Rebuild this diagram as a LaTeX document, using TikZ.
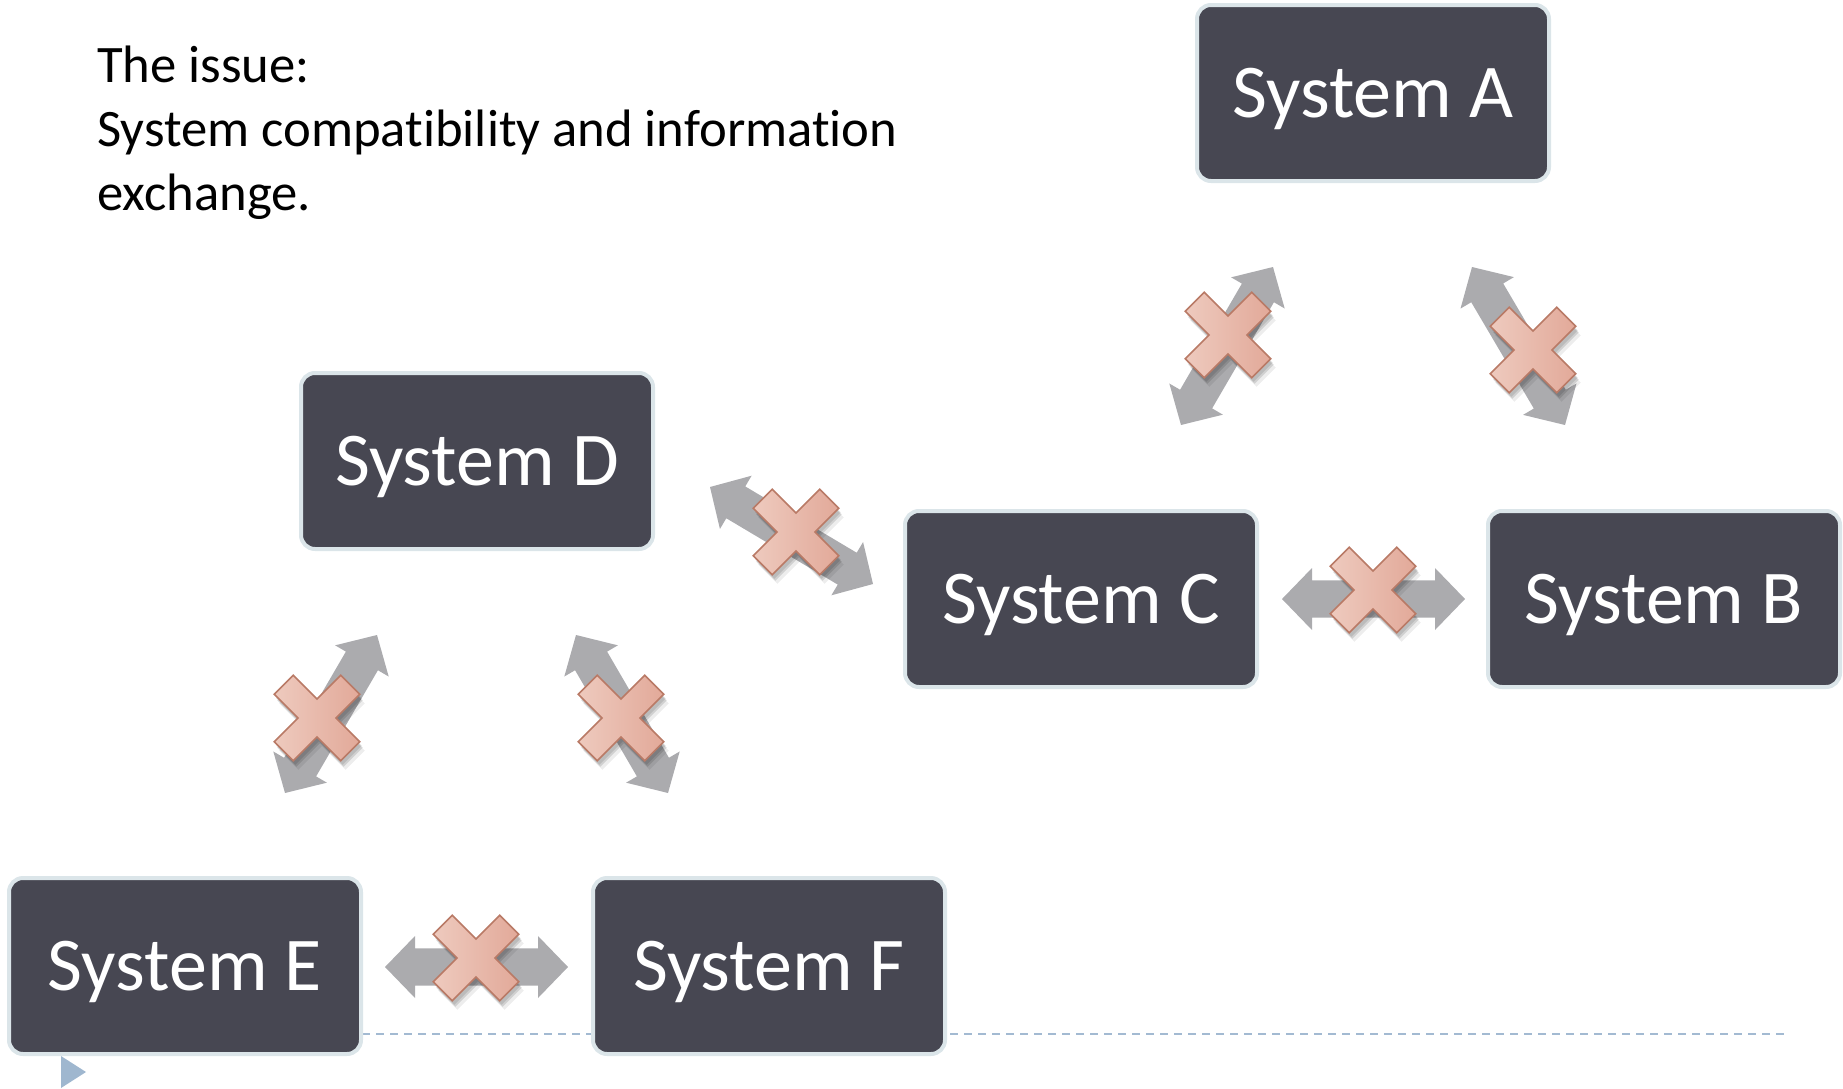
\documentclass[tikz,border=0pt]{standalone}
\usepackage{fontspec}
\setmainfont{Carlito}[Ligatures=NoCommon]
\usetikzlibrary{calc}
\definecolor{boxfill}{HTML}{474752}
\definecolor{boxborder}{HTML}{DBE5E9}
\definecolor{arrowgray}{HTML}{ABABAE}
\definecolor{crossL}{HTML}{EECABE}
\definecolor{crossR}{HTML}{E2A999}
\definecolor{crossline}{HTML}{B97A66}
\definecolor{dashcol}{HTML}{A3BAD2}
\definecolor{tricol}{HTML}{9FB7CF}
\tikzset{
  sysbox/.style={draw=boxborder, line width=3pt, fill=boxfill, rounded corners=10.5pt,
    minimum width=264pt, minimum height=132pt, inner sep=0pt, text=white,
    font=\fontsize{57}{62}\selectfont, text height=36pt, text depth=0pt},
  titletext/.style={anchor=base west, inner sep=0pt, text=black, font=\fontsize{39.5}{47}\selectfont},
  baseline dash/.style={draw=dashcol, line width=1.5pt, dash pattern=on 6pt off 4.5pt},
  nogoshape/.pic={\path[pic actions] (47,13.5) -- (13.5,13.5) -- (13.5,47) -- (-13.5,47) -- (-13.5,13.5) -- (-47,13.5) -- (-47,-13.5) -- (-13.5,-13.5) -- (-13.5,-47) -- (13.5,-47) -- (13.5,-13.5) -- (47,-13.5) -- cycle;},
}
\def\ahl{22.5pt}
\def\ahw{23.25pt}
\def\asw{13.9pt}
\newcommand\dblarr[2]{%
  \fill[arrowgray] (#1)
    -- ($(#1)!\ahl!(#2)!\ahw!90:(#2)$)
    -- ($(#1)!\ahl!(#2)!\asw!90:(#2)$)
    -- ($(#2)!\ahl!(#1)!\asw!-90:(#1)$)
    -- ($(#2)!\ahl!(#1)!\ahw!-90:(#1)$)
    -- (#2)
    -- ($(#2)!\ahl!(#1)!\ahw!90:(#1)$)
    -- ($(#2)!\ahl!(#1)!\asw!90:(#1)$)
    -- ($(#1)!\ahl!(#2)!\asw!-90:(#2)$)
    -- ($(#1)!\ahl!(#2)!\ahw!-90:(#2)$)
    -- cycle;}
\newcommand\nogo[1]{%
  \pic[fill=black, opacity=0.10, shift={(2,4)}, rotate=45] at (#1) {nogoshape};
  \pic[fill=black, opacity=0.12, shift={(3,6)}, rotate=45] at (#1) {nogoshape};
  \pic[fill=black, opacity=0.07, shift={(5,9)}, rotate=45] at (#1) {nogoshape};
  \pic[draw=crossline, line width=1.2pt, left color=crossL, right color=crossR, rotate=45] at (#1) {nogoshape};}
\begin{document}
\begin{tikzpicture}[x=0.75pt, y=-0.75pt]
\useasboundingbox (0,0) rectangle (1843,1089);
% title
\node[titletext] (t1) at (97,82) {The issue:};
\node[titletext] (t2) at (97,146) {System compatibility and information};
\node[titletext] (t3) at (97,210) {exchange.};
% dashed baseline and marker
\coordinate (ds) at (40,1034);
\coordinate (de) at (1789,1034);
\draw[baseline dash] (ds) -- (de);
\fill[tricol] (61,1056) -- (86,1072) -- (61,1088) -- cycle;
% boxes
\node[sysbox] (A) at (1373,93) {System A};
\node[sysbox] (D) at (477,461) {System D};
\node[sysbox] (C) at (1081,599) {System C};
\node[sysbox] (B) at (1664,599) {System B};
\node[sysbox] (E) at (185,966) {System E};
\node[sysbox] (F) at (769,966) {System F};
% arrow end points and cross centres
\coordinate (acT) at (1273,267); \coordinate (acB) at (1181,425); \coordinate (xAC) at (1228,335);
\coordinate (abT) at (1472,267); \coordinate (abB) at (1565,425); \coordinate (xAB) at (1533,350);
\coordinate (dcL) at (710,487);  \coordinate (dcR) at (873,584);  \coordinate (xDC) at (796,532);
\coordinate (cbL) at (1282,599); \coordinate (cbR) at (1465,599); \coordinate (xCB) at (1373,590);
\coordinate (deT) at (377,635);  \coordinate (deB) at (285,793);  \coordinate (xDE) at (317,718);
\coordinate (dfT) at (576,635);  \coordinate (dfB) at (668,793);  \coordinate (xDF) at (621,718);
\coordinate (efL) at (385,967);  \coordinate (efR) at (568,967);  \coordinate (xEF) at (476,958);
\dblarr{acT}{acB}\nogo{xAC}
\dblarr{abT}{abB}\nogo{xAB}
\dblarr{dcL}{dcR}\nogo{xDC}
\dblarr{cbL}{cbR}\nogo{xCB}
\dblarr{deT}{deB}\nogo{xDE}
\dblarr{dfT}{dfB}\nogo{xDF}
\dblarr{efL}{efR}\nogo{xEF}
\end{tikzpicture}
\end{document}
